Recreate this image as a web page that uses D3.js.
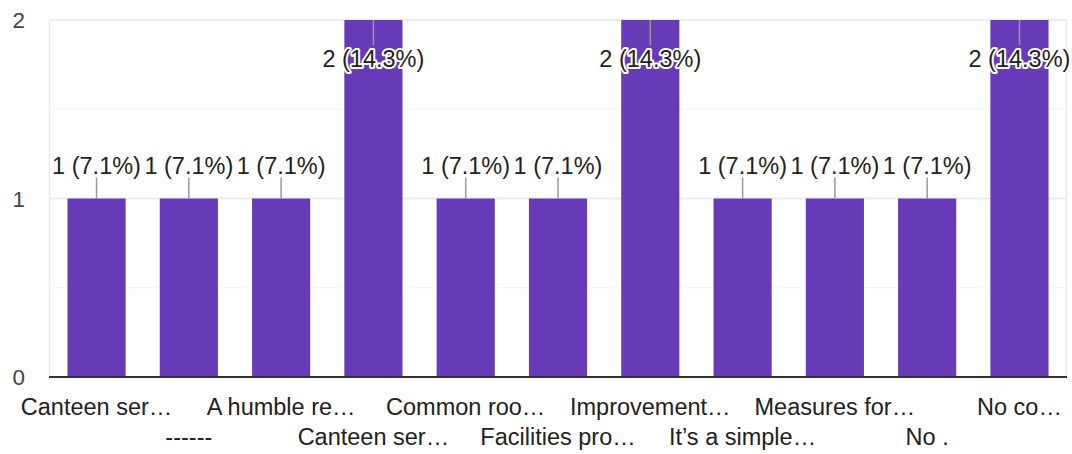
<!DOCTYPE html>
<html>
<head>
<meta charset="utf-8">
<script src="https://cdn.jsdelivr.net/npm/d3@7"></script>
<style>
  html, body { margin: 0; padding: 0; background: #fff; }
  svg { display: block; font-family: "Liberation Sans", Arial, sans-serif; }
</style>
</head>
<body>
<svg id="chart" width="1072" height="454"></svg>
<script>
const categories = [
  "Canteen ser\u2026", "------", "A humble re\u2026", "Canteen ser\u2026",
  "Common roo\u2026", "Facilities pro\u2026", "Improvement\u2026", "It\u2019s a simple\u2026",
  "Measures for\u2026", "No .", "No co\u2026"
];
const counts = [1, 1, 1, 2, 1, 1, 2, 1, 1, 1, 2];
const percents = ["7.1%", "7.1%", "7.1%", "14.3%", "7.1%", "7.1%", "14.3%", "7.1%", "7.1%", "7.1%", "14.3%"];
const yTicks = [0, 1, 2];
const yMinorTicks = [0.5, 1.5];

(function () {
const svg = d3.select("#chart");
const pL = 49, pR = 1067, pT = 20, pB = 377;

const x = d3.scaleBand().domain(d3.range(categories.length))
  .range([pL, pR]).paddingInner(0.37).paddingOuter(0.2);
const y = d3.scaleLinear().domain([0, 2]).range([pB, pT]);

// frame verticals
svg.append("line").attr("x1", pL + 0.5).attr("x2", pL + 0.5).attr("y1", pT).attr("y2", pB)
  .attr("stroke", "#ebebeb").attr("stroke-width", 1.5);
svg.append("line").attr("x1", pR - 0.5).attr("x2", pR - 0.5).attr("y1", pT).attr("y2", pB)
  .attr("stroke", "#ebebeb").attr("stroke-width", 1.5);

// minor gridlines
svg.selectAll(".minor").data(yMinorTicks).enter().append("line")
  .attr("x1", pL).attr("x2", pR)
  .attr("y1", d => y(d)).attr("y2", d => y(d))
  .attr("stroke", "#f3f3f3").attr("stroke-width", 1);
// major gridlines
svg.selectAll(".major").data(yTicks.filter(d => d !== 0)).enter().append("line")
  .attr("x1", pL).attr("x2", pR)
  .attr("y1", d => y(d)).attr("y2", d => y(d))
  .attr("stroke", "#ebebeb").attr("stroke-width", 2);

// y tick labels
svg.selectAll(".ytick").data(yTicks).enter().append("text")
  .attr("x", 25).attr("y", d => y(d)).attr("dy", "0.36em")
  .attr("text-anchor", "end").attr("font-size", 22.5).attr("fill", "#444")
  .text(d => d);

// bars
svg.selectAll(".bar").data(counts).enter().append("rect")
  .attr("x", (d, i) => x(i)).attr("width", x.bandwidth())
  .attr("y", d => y(d)).attr("height", d => y(0) - y(d))
  .attr("fill", "#673ab7");

// baseline
svg.append("line").attr("x1", pL).attr("x2", pR).attr("y1", pB).attr("y2", pB)
  .attr("stroke", "#333").attr("stroke-width", 2);

// data labels
counts.forEach((d, i) => {
  const cx = x(i) + x.bandwidth() / 2;
  const by = y(d);
  const inside = by - 45 < 0;
  const l1 = inside ? by : by - 21;
  const l2 = inside ? by + 25 : by;
  const ty = inside ? by + 47 : by - 25;
  svg.append("line").attr("x1", cx).attr("x2", cx).attr("y1", l1).attr("y2", l2)
    .attr("stroke", "#999").attr("stroke-width", 1.5);
  svg.append("text").attr("x", cx).attr("y", ty)
    .attr("text-anchor", "middle").attr("font-size", 23.5).attr("fill", "#222")
    .attr("stroke", "#fff").attr("stroke-width", 4).attr("paint-order", "stroke")
    .attr("stroke-linejoin", "round")
    .text(`${d} (${percents[i]})`);
});

// x labels (alternating rows)
svg.selectAll(".xlab").data(categories).enter().append("text")
  .attr("x", (d, i) => x(i) + x.bandwidth() / 2)
  .attr("y", (d, i) => i % 2 === 0 ? 415 : 445)
  .attr("text-anchor", "middle").attr("font-size", 23.5).attr("fill", "#222")
  .text(d => d);
})();
</script>
</body>
</html>
